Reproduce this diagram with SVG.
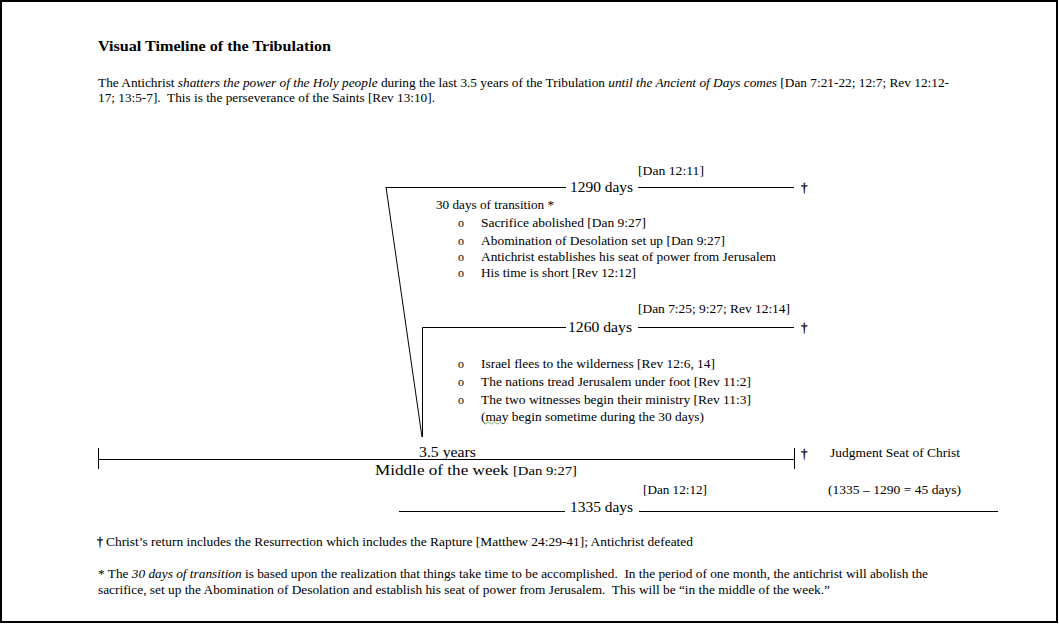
<svg xmlns="http://www.w3.org/2000/svg" width="1059" height="624" viewBox="0 0 1059 624">
<style>
text{font-family:"Liberation Serif","Times New Roman",serif;fill:#000;font-size:12px}
.big{font-size:14px}
.ttl{font-size:14px;font-weight:bold}
.dg{font-family:"Liberation Serif","DejaVu Serif",serif;font-size:13px;fill:#000;stroke:#000;stroke-width:0.3}
.ln{stroke:#000;stroke-width:1;fill:none}
</style>
<rect x="1" y="1" width="1056" height="621" fill="#fff" stroke="#000" stroke-width="2"/>
<g id="header">
<text class="ttl" x="98" y="51" textLength="233" lengthAdjust="spacingAndGlyphs">Visual Timeline of the Tribulation</text>
<text x="98" y="87" textLength="851" lengthAdjust="spacingAndGlyphs">The Antichrist <tspan font-style="italic">shatters the power of the Holy people</tspan> during the last 3.5 years of the Tribulation <tspan font-style="italic">until the Ancient of Days comes</tspan> [Dan 7:21-22; 12:7; Rev 12:12-</text>
<text x="98" y="102" textLength="337" lengthAdjust="spacingAndGlyphs" xml:space="preserve">17; 13:5-7].  This is the perseverance of the Saints [Rev 13:10].</text>
</g>
<g id="connectors">
<path class="ln" d="M386 187.5H566M638 187.5H794"/>
<path class="ln" d="M386 187L422 437"/>
<path class="ln" d="M422.5 437V327.5H566M638 327.5H794"/>
<path class="ln" d="M98 459.5H794M98.5 448V469M794.5 448V469"/>
<path class="ln" d="M399 511.5H565M639 511.5H998"/>
<path d="M484 423q1.5 2 3 0t3 0t3 0t3 0t3 0t3 0" fill="none" stroke="#5a9c3a" stroke-width="0.8"/>
</g>
<g id="p1290">
<text x="638" y="175" textLength="66" lengthAdjust="spacingAndGlyphs">[Dan 12:11]</text>
<text class="big" x="570" y="192" textLength="63" lengthAdjust="spacingAndGlyphs">1290 days</text>
<text class="dg" x="801" y="192">†</text>
<text x="436" y="209" textLength="118" lengthAdjust="spacingAndGlyphs">30 days of transition *</text>
<text x="458" y="227">o</text><text x="481" y="227" textLength="165" lengthAdjust="spacingAndGlyphs">Sacrifice abolished [Dan 9:27]</text>
<text x="458" y="245">o</text><text x="481" y="245" textLength="244" lengthAdjust="spacingAndGlyphs">Abomination of Desolation set up [Dan 9:27]</text>
<text x="458" y="261">o</text><text x="481" y="261" textLength="295" lengthAdjust="spacingAndGlyphs">Antichrist establishes his seat of power from Jerusalem</text>
<text x="458" y="277">o</text><text x="481" y="277" textLength="155" lengthAdjust="spacingAndGlyphs">His time is short [Rev 12:12]</text>
</g>
<g id="p1260">
<text x="638" y="313" textLength="152" lengthAdjust="spacingAndGlyphs">[Dan 7:25; 9:27; Rev 12:14]</text>
<text class="big" x="568" y="332" textLength="64" lengthAdjust="spacingAndGlyphs">1260 days</text>
<text class="dg" x="801" y="332">†</text>
<text x="458" y="368">o</text><text x="481" y="368" textLength="234" lengthAdjust="spacingAndGlyphs">Israel flees to the wilderness [Rev 12:6, 14]</text>
<text x="458" y="386">o</text><text x="481" y="386" textLength="270" lengthAdjust="spacingAndGlyphs">The nations tread Jerusalem under foot [Rev 11:2]</text>
<text x="458" y="404">o</text><text x="481" y="404" textLength="270" lengthAdjust="spacingAndGlyphs">The two witnesses begin their ministry [Rev 11:3]</text>
<text x="481" y="421" textLength="223" lengthAdjust="spacingAndGlyphs">(may begin sometime during the 30 days)</text>
</g>
<g id="main">
<text class="big" x="419" y="457" textLength="57" lengthAdjust="spacingAndGlyphs">3.5 years</text>
<text class="dg" x="801" y="458">†</text>
<text x="830" y="457" textLength="130" lengthAdjust="spacingAndGlyphs">Judgment Seat of Christ</text>
<text class="big" x="375" y="475" textLength="202" lengthAdjust="spacingAndGlyphs">Middle of the week <tspan font-size="12">[Dan 9:27]</tspan></text>
</g>
<g id="p1335">
<text x="643" y="494" textLength="64" lengthAdjust="spacingAndGlyphs">[Dan 12:12]</text>
<text x="828" y="494" textLength="133" lengthAdjust="spacingAndGlyphs">(1335 – 1290 = 45 days)</text>
<text class="big" x="570" y="512" textLength="63" lengthAdjust="spacingAndGlyphs">1335 days</text>
</g>
<g id="footnotes">
<text class="dg" x="97" y="546" style="font-size:12px">†</text>
<text x="106" y="546" textLength="587" lengthAdjust="spacingAndGlyphs">Christ’s return includes the Resurrection which includes the Rapture [Matthew 24:29-41]; Antichrist defeated</text>
<text x="98" y="578" textLength="830" lengthAdjust="spacingAndGlyphs" xml:space="preserve">* The <tspan font-style="italic">30 days of transition</tspan> is based upon the realization that things take time to be accomplished.  In the period of one month, the antichrist will abolish the</text>
<text x="98" y="594" textLength="732" lengthAdjust="spacingAndGlyphs" xml:space="preserve">sacrifice, set up the Abomination of Desolation and establish his seat of power from Jerusalem.  This will be “in the middle of the week.”</text>
</g>
</svg>
